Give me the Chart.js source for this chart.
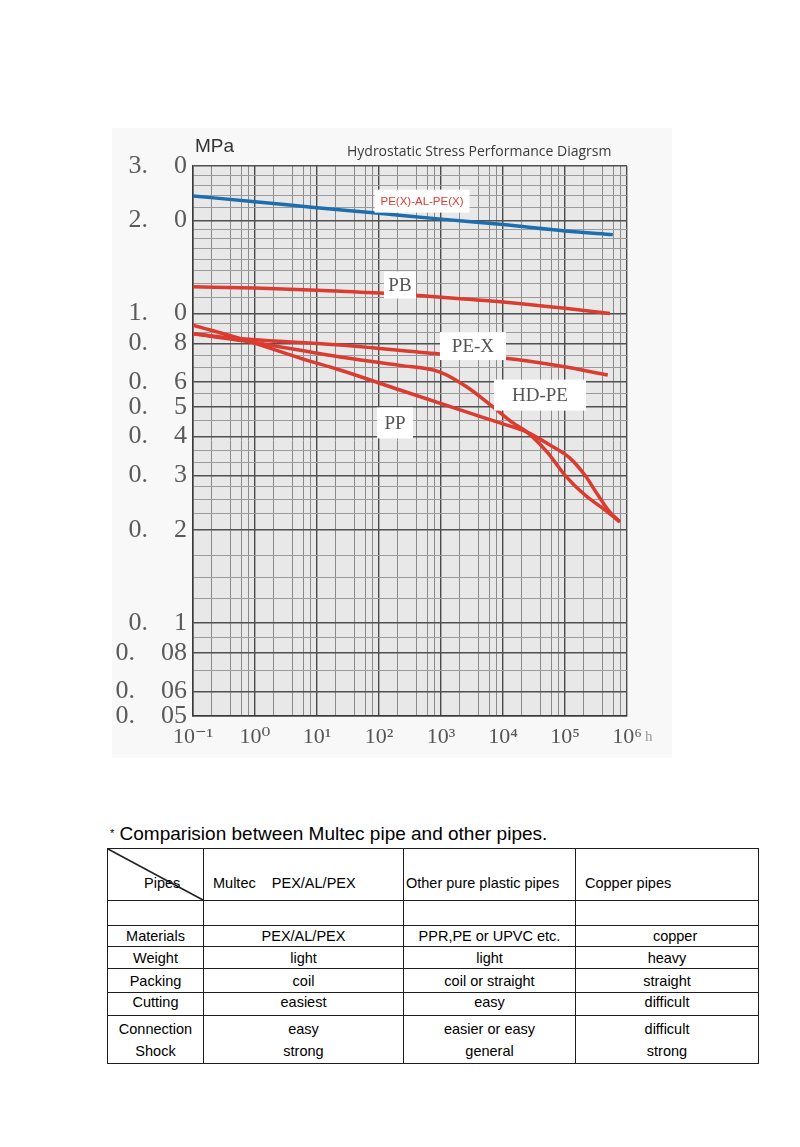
<!DOCTYPE html>
<html>
<head>
<meta charset="utf-8">
<script src="https://cdn.jsdelivr.net/npm/chart.js@4.4.1/dist/chart.umd.min.js"></script>
<style>
  body { margin: 0; background: #fff; font-family: 'Liberation Sans', Arial, sans-serif; }
  #page { position: relative; width: 800px; height: 1147px; overflow: hidden; }
  #wrap { position: absolute; left: 112px; top: 128px; width: 560px; height: 630px; background: #f8f8f8; }
  #cap { position: absolute; left: 110px; top: 823px; font-size: 19px; color: #000; white-space: pre; }
  #cap .star { font-size: 11px; vertical-align: 3px; }
  #tbl { position: absolute; left: 107px; top: 848px; width: 651px; border-collapse: collapse; table-layout: fixed; font-size: 14.5px; color: #000; }
  #tbl td { border: 1.8px solid #1e1e1e; padding: 0; text-align: center; vertical-align: middle; line-height: 18px; white-space: pre; }
  #tbl tr.head td { text-align: left; padding-top: 16px; }
  #diag { position: absolute; left: 107px; top: 848px; }
</style>
</head>
<body>
<div id="page">
  <div id="wrap"><canvas id="stressChart" width="560" height="630"></canvas></div>

  <div id="cap"><span class="star">*</span> Comparision between Multec pipe and other pipes.</div>
  <table id="tbl">
    <colgroup><col style="width:96px"><col style="width:200px"><col style="width:172px"><col style="width:183px"></colgroup>
    <tr class="head" style="height:52px">
      <td style="padding-left:36px">Pipes</td>
      <td style="padding-left:9px">Multec    PEX/AL/PEX</td>
      <td style="padding-left:2px">Other pure plastic pipes</td>
      <td style="padding-left:9px">Copper pipes</td>
    </tr>
    <tr style="height:25px"><td></td><td></td><td></td><td></td></tr>
    <tr style="height:21px"><td>Materials</td><td>PEX/AL/PEX</td><td>PPR,PE or UPVC etc.</td><td>    copper</td></tr>
    <tr style="height:22px"><td>Weight</td><td>light</td><td>light</td><td>heavy</td></tr>
    <tr style="height:24px"><td>Packing</td><td>coil</td><td>coil or straight</td><td>straight</td></tr>
    <tr style="height:23px"><td style="vertical-align:top">Cutting</td><td style="vertical-align:top">easiest</td><td style="vertical-align:top">easy</td><td style="vertical-align:top">difficult</td></tr>
    <tr style="height:48px"><td style="line-height:22px">Connection<br>Shock</td><td style="line-height:22px">easy<br>strong</td><td style="line-height:22px">easier or easy<br>general</td><td style="line-height:22px">difficult<br>strong</td></tr>
  </table>
  <svg id="diag" width="97" height="53"><line x1="1" y1="1" x2="96" y2="52" stroke="#222" stroke-width="1.6"/></svg>
</div>

<script>
// hours / MPa
const hoursPexAl = [0.1, 1, 10, 100, 1000, 1e4, 1e5, 5.9e5];
const mpaPexAl   = [2.40, 2.30, 2.20, 2.11, 2.02, 1.94, 1.85, 1.80];

const hoursPb = [0.1, 1, 10, 100, 1000, 1e4, 1e5, 5.3e5];
const mpaPb   = [1.22, 1.21, 1.19, 1.165, 1.13, 1.09, 1.04, 1.00];

const hoursPex = [0.1, 0.69, 23.5, 964, 1.08e4, 8.3e4, 4.9e5];
const mpaPex   = [0.86, 0.827, 0.791, 0.74, 0.717, 0.677, 0.633];

const hoursHdpe = [0.1, 0.69, 23.5, 218, 964, 2620, 6900, 1.45e4, 2.44e4, 5.13e4, 1e5, 2.1e5, 4.4e5, 7.7e5];
const mpaHdpe   = [0.86, 0.815, 0.724, 0.68, 0.647, 0.579, 0.499, 0.443, 0.414, 0.357, 0.30, 0.259, 0.232, 0.212];

const hoursPp = [0.1, 0.69, 5.3, 23.5, 218, 2620, 8950, 2.44e4, 5.7e4, 1.2e5, 2.1e5, 3.4e5, 5.3e5, 7.7e5];
const mpaPp   = [0.918, 0.821, 0.718, 0.657, 0.566, 0.48, 0.443, 0.414, 0.376, 0.341, 0.30, 0.259, 0.228, 0.212];

// curve name tags, anchored in data units
const tagTexts = ['PE(X)-AL-PE(X)', 'PB', 'PE-X', 'HD-PE', 'PP'];
const tagHours = [494, 218, 3280, 3.95e4, 181];
const tagMpa   = [2.31, 1.237, 0.785, 0.545, 0.443];

// axis ticks / grid
const yGridValues = [0.05, 0.06, 0.07, 0.08, 0.09, 0.1, 0.12, 0.14, 0.165, 0.2, 0.225, 0.25, 0.275, 0.3, 0.33,
  0.36, 0.4, 0.45, 0.5, 0.55, 0.6, 0.67, 0.73, 0.8, 0.87, 0.93, 1.0, 1.125, 1.25, 1.375, 1.5, 1.625, 1.75,
  1.875, 2.0, 2.2, 2.4, 2.6, 2.8, 3.0];
const yLabelValues = [3.0, 2.0, 1.0, 0.8, 0.6, 0.5, 0.4, 0.3, 0.2, 0.1, 0.08, 0.06, 0.05];
const xDecades = [-1, 0, 1, 2, 3, 4, 5, 6];
const xMinorSteps = [2, 4, 6, 8];

const RED = '#dc3b30';
const BLUE = '#1d6eae';

const xGridValues = [];
xDecades.forEach(d => {
  xGridValues.push(Math.pow(10, d));
  if (d < 6) xMinorSteps.forEach(m => xGridValues.push(m * Math.pow(10, d)));
});

const isDecade = v => Math.abs(Math.log10(v) - Math.round(Math.log10(v))) < 1e-9;
const isYLabel = v => yLabelValues.some(l => Math.abs(l - v) < 1e-9);
const sup = { '-': '\u207B', '0': '\u2070', '1': '\u00B9', '2': '\u00B2', '3': '\u00B3', '4': '\u2074', '5': '\u2075', '6': '\u2076' };

const pts = (hs, ms) => hs.map((h, i) => ({ x: h, y: ms[i] }));

const line = (data, color) => ({
  data: data,
  borderColor: color,
  borderWidth: 3.5,
  pointRadius: 0,
  fill: false,
  cubicInterpolationMode: 'monotone'
});

const paperPlugin = {
  id: 'paper',
  beforeDraw(chart) {
    const { ctx, chartArea: a } = chart;
    ctx.save();
    ctx.fillStyle = '#e8e8e8';
    ctx.fillRect(a.left, a.top, a.right - a.left, a.bottom - a.top);
    ctx.restore();
  },
  afterDraw(chart) {
    const ctx = chart.ctx;
    const xs = chart.scales.x, ys = chart.scales.y;
    ctx.save();
    ctx.textAlign = 'center';
    ctx.textBaseline = 'middle';
    const boxW = [95, 32, 66, 92, 36];
    const boxH = [23, 27, 28, 31, 31];
    tagTexts.forEach((t, i) => {
      const px = xs.getPixelForValue(tagHours[i]);
      const py = ys.getPixelForValue(tagMpa[i]);
      ctx.fillStyle = '#ffffff';
      ctx.fillRect(px - boxW[i] / 2, py - boxH[i] / 2, boxW[i], boxH[i]);
      if (i === 0) {
        ctx.font = '11.5px "Liberation Sans", Arial, sans-serif';
        ctx.fillStyle = RED;
      } else {
        ctx.font = '19px "Liberation Serif", "DejaVu Serif", serif';
        ctx.fillStyle = '#555';
      }
      ctx.fillText(t, px, py + 1);
    });

    ctx.textAlign = 'left';
    ctx.fillStyle = '#333';
    ctx.font = '19px "Liberation Sans", Arial, sans-serif';
    ctx.fillText('MPa', 83, 19);
    ctx.font = '14px "Open Sans", "DejaVu Sans", sans-serif';
    ctx.fillStyle = '#3a3a3a';
    ctx.fillText('Hydrostatic Stress Performance Diagrsm', 235, 24);
    ctx.font = '15px "Liberation Serif", serif';
    ctx.fillStyle = '#9a9a9a';
    ctx.fillText('h', 533, 609);
    ctx.restore();
  }
};

new Chart(document.getElementById('stressChart').getContext('2d'), {
  type: 'line',
  data: {
    datasets: [
      line(pts(hoursPexAl, mpaPexAl), BLUE),
      line(pts(hoursPb, mpaPb), RED),
      line(pts(hoursPex, mpaPex), RED),
      line(pts(hoursHdpe, mpaHdpe), RED),
      line(pts(hoursPp, mpaPp), RED)
    ]
  },
  options: {
    responsive: false,
    animation: false,
    layout: { padding: { top: 38, right: 45, left: 0, bottom: 0 } },
    plugins: { legend: { display: false }, tooltip: { enabled: false } },
    scales: {
      x: {
        type: 'logarithmic',
        min: 0.1,
        max: 1e6,
        afterBuildTicks: s => { s.ticks = xGridValues.map(v => ({ value: v })); },
        afterFit: s => { s.height = 42; },
        grid: {
          drawTicks: false,
          color: c => (c.tick && isDecade(c.tick.value)) ? '#4a4a4a' : '#8a8a8a',
          lineWidth: c => (c.tick && isDecade(c.tick.value)) ? 1.4 : 1
        },
        border: { color: '#3a3a3a', width: 1.5 },
        ticks: {
          autoSkip: false,
          maxRotation: 0,
          minRotation: 0,
          padding: 8,
          color: '#555',
          font: { family: '"Liberation Serif", "DejaVu Serif", serif', size: 22 },
          callback: v => {
            if (!isDecade(v)) return '';
            const e = String(Math.round(Math.log10(v)));
            return '10' + e.split('').map(ch => sup[ch]).join('');
          }
        }
      },
      y: {
        type: 'logarithmic',
        min: 0.05,
        max: 3.0,
        afterBuildTicks: s => { s.ticks = yGridValues.map(v => ({ value: v })); },
        afterFit: s => { s.width = 81; },
        grid: {
          drawTicks: false,
          color: c => (c.tick && isYLabel(c.tick.value)) ? '#505050' : '#9a9a9a',
          lineWidth: c => (c.tick && isYLabel(c.tick.value)) ? 1.4 : 1
        },
        border: { color: '#3a3a3a', width: 1.5 },
        ticks: {
          autoSkip: false,
          padding: 6,
          color: '#5a5a5a',
          font: { family: '"Liberation Serif", "DejaVu Serif", serif', size: 26 },
          callback: v => {
            if (!isYLabel(v)) return '';
            let s = String(v);
            if (s.indexOf('.') < 0) s += '.0';
            return s.replace('.', '.\u2003');
          }
        }
      }
    }
  },
  plugins: [paperPlugin]
});
</script>
</body>
</html>
